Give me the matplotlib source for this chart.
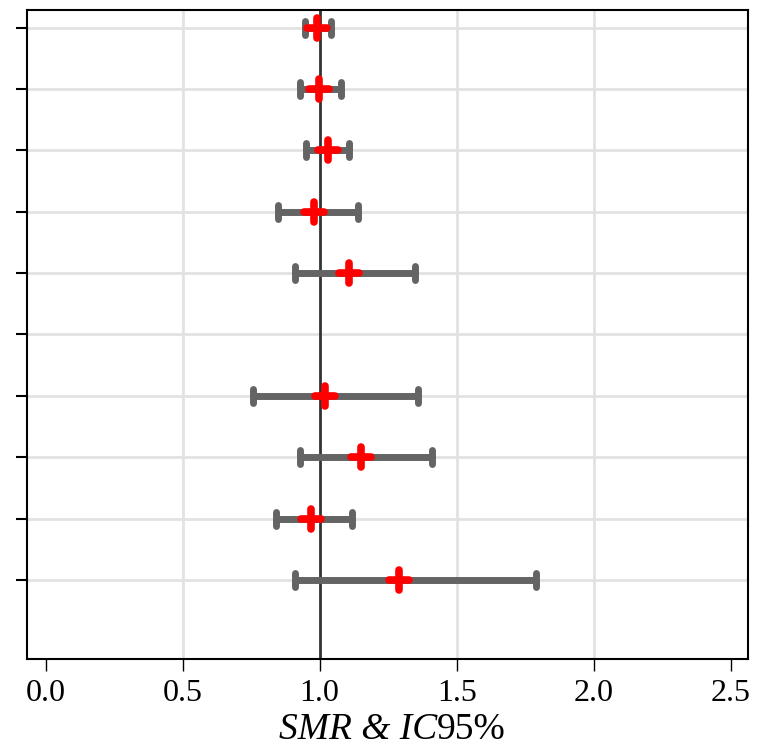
import numpy as np
import matplotlib as mpl
mpl.use('Agg')
from matplotlib import pyplot as plt
from matplotlib.markers import MarkerStyle

mpl.rcParams['font.family'] = 'Liberation Serif'

# rows from top (10) to bottom (1); row 5 has no estimate
rows = [10, 9, 8, 7, 6, 4, 3, 2, 1]
smr = [0.991, 0.999, 1.029, 0.980, 1.108, 1.020, 1.150, 0.968, 1.289]
ic_low = [0.946, 0.928, 0.949, 0.849, 0.910, 0.758, 0.929, 0.839, 0.909]
ic_high = [1.041, 1.078, 1.108, 1.139, 1.348, 1.360, 1.410, 1.119, 1.789]
xticks = [0.0, 0.5, 1.0, 1.5, 2.0, 2.5]

fig = plt.figure(figsize=(7.69, 7.48), dpi=100)
ax = fig.add_axes([27/769., 89/748., 721/769., 649/748.])

# grid
for v in [0.5, 1.5, 2.0]:
    ax.axvline(v, color='#e2e2e2', lw=2.0, zorder=0)
for r in range(1, 11):
    ax.axhline(r, color='#e2e2e2', lw=2.0, zorder=0)
ax.axvline(1.0, color='#333333', lw=2.0, zorder=1)

smr = np.array(smr)
err = [smr - np.array(ic_low), np.array(ic_high) - smr]
eb = ax.errorbar(smr, rows, xerr=err, fmt='none', ecolor='#646464',
                 elinewidth=5, capsize=5, capthick=5, zorder=2)
for cl in eb[1]:
    cl.set_marker(MarkerStyle('|', capstyle='round'))
    cl.set_markersize(10)
for lc in eb[2]:
    lc.set_capstyle('butt')

ax.plot(smr, rows, linestyle='none', color='red',
        marker=MarkerStyle('+', capstyle='round'), markersize=15,
        markeredgewidth=5.5, zorder=3)

ax.set_xlim(-0.068, 2.563)
ax.set_ylim(-0.29, 10.29)
ax.set_xticks(xticks)
ax.set_xticklabels(['%.1f' % t for t in xticks], fontsize=23)
ax.set_yticks(range(1, 11))
ax.set_yticklabels([])
ax.tick_params(axis='x', length=8.5, width=1, pad=6)
ax.tick_params(axis='y', length=8, width=1.5)
for s in ax.spines.values():
    s.set_linewidth(1.5)

# x label: italic part + roman part
fig.text(437/769., 9/748., 'SMR & IC', fontsize=27, style='italic',
         ha='right', va='baseline')
fig.text(437/769., 9/748., '95%', fontsize=27, ha='left', va='baseline')

plt.savefig('out.png', dpi=100)
